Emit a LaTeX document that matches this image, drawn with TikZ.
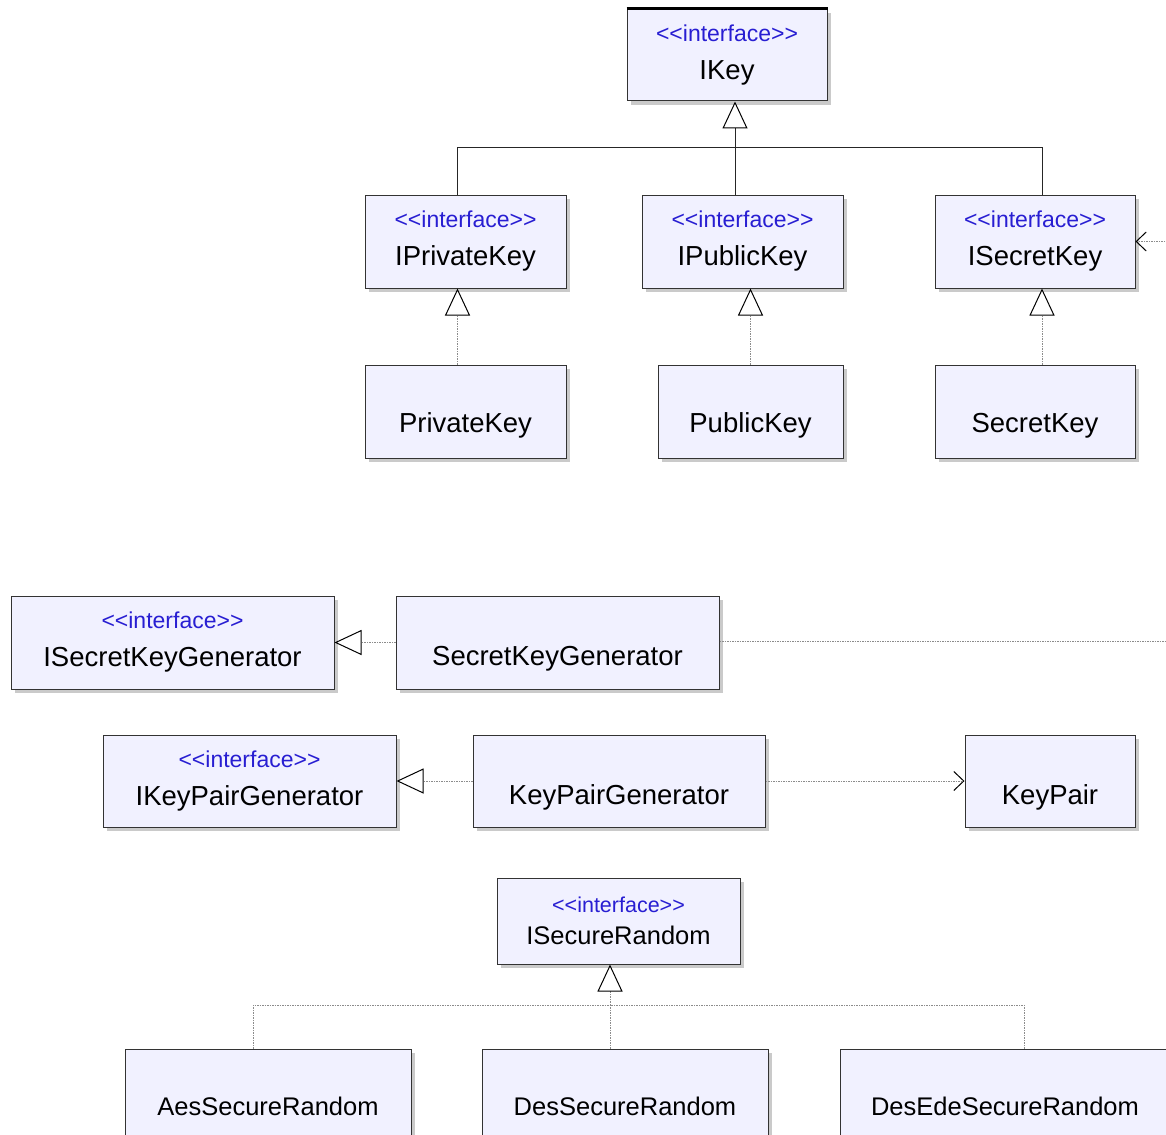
\documentclass[tikz,border=0pt]{standalone}
\usepackage{fontspec}
\newfontfamily\umlfont{Liberation Sans}
\usepackage{tikz}
\usetikzlibrary{positioning}
\usetikzlibrary{arrows.meta,shadows}

\definecolor{StereoBlue}{RGB}{40,30,210}
\definecolor{BoxFill}{RGB}{241,241,255}

% stereotype line, big and small version
\newcommand{\ifaceTag}{{\fontsize{23}{38}\selectfont\color{StereoBlue}<<interface>>}}
\newcommand{\ifaceTagSmall}{{\fontsize{21.5}{32}\selectfont\color{StereoBlue}<<interface>>}}

\tikzset{
	classBox/.style={draw=black!80, line width=1pt, fill=BoxFill, align=center, inner sep=0pt,
		font=\umlfont\fontsize{27.5}{38}\selectfont,
		drop shadow={shadow xshift=4pt, shadow yshift=-4pt, fill=black!35, opacity=0.6}},
	smallBox/.style={classBox, font=\umlfont\fontsize{25.5}{32}\selectfont},
	extLine/.style={draw=black!85, line width=1pt,
		-{Triangle[length=27pt, width=25pt, color=black, fill=white, line width=1pt]}},
	implLine/.style={draw=black!45, line width=1pt, dash pattern=on 1.5pt off 1pt,
		-{Triangle[length=27pt, width=25pt, color=black, fill=white, line width=1pt]}},
	joinLine/.style={draw=black!45, line width=1pt, dash pattern=on 1.5pt off 1pt},
	useLine/.style={draw=black!45, line width=1pt, dash pattern=on 1.5pt off 1pt,
		-{Straight Barb[length=10pt, width=19pt, color=black, line width=1pt]}},
}

\begin{document}
\begin{tikzpicture}[x=1pt, y=-1pt]
	
	% page frame (pixels of the reference), everything outside is cut off
	\path[use as bounding box, clip] (0,0) rectangle (1166,1134);
	
	%%%%%%%%%%%%%%%%%%%%%%%%%%%%%%%%%%%%%%%%%%%%%%%%%%%%%%%%%%%%%%
	% key interfaces and classes
	\node[classBox, minimum width=200pt, minimum height=92pt] (IKey) at (727,55) {\ifaceTag\\IKey};
	\draw[line width=3pt] (IKey.north west) -- (IKey.north east);
	
	\node[classBox, minimum width=201pt, minimum height=93pt] (IPrivateKey) at (465.5,241.5) {\ifaceTag\\IPrivateKey};
	\node[classBox, minimum width=201pt, minimum height=93pt] (IPublicKey) at (742.5,241.5) {\ifaceTag\\IPublicKey};
	\node[classBox, minimum width=200pt, minimum height=93pt] (ISecretKey) at (1035,241.5) {\ifaceTag\\ISecretKey};
	
	\node[classBox, minimum width=201pt, minimum height=93pt] (PrivateKey) at (465.5,411.5) {\phantom{\ifaceTag}\\[-6pt]PrivateKey};
	\node[classBox, minimum width=185pt, minimum height=93pt] (PublicKey) at (750.5,411.5) {\phantom{\ifaceTag}\\[-6pt]PublicKey};
	\node[classBox, minimum width=200pt, minimum height=93pt] (SecretKey) at (1035,411.5) {\phantom{\ifaceTag}\\[-6pt]SecretKey};
	
	% generators
	\node[classBox, minimum width=323pt, minimum height=93pt] (ISecretKeyGenerator) at (172.5,642.5) {\ifaceTag\\ISecretKeyGenerator};
	\node[classBox, minimum width=323pt, minimum height=93pt] (SecretKeyGenerator) at (557.5,642.5) {\phantom{\ifaceTag}\\[-2pt]SecretKeyGenerator};
	
	\node[classBox, minimum width=293pt, minimum height=92pt] (IKeyPairGenerator) at (249.5,781) {\ifaceTag\\IKeyPairGenerator};
	\node[classBox, minimum width=292pt, minimum height=92pt] (KeyPairGenerator) at (619,781) {\phantom{\ifaceTag}\\[-2pt]KeyPairGenerator};
	\node[classBox, minimum width=170pt, minimum height=92pt] (KeyPair) at (1050,781) {\phantom{\ifaceTag}\\[-2pt]KeyPair};
	
	% secure random
	\node[smallBox, minimum width=243pt, minimum height=86pt] (ISecureRandom) at (618.5,921) {\ifaceTagSmall\\ISecureRandom};
	\node[smallBox, minimum width=286pt, minimum height=93pt] (AesSecureRandom) at (268,1095.5) {\phantom{\ifaceTagSmall}\\[-8pt]AesSecureRandom};
	\node[smallBox, minimum width=286pt, minimum height=93pt] (DesSecureRandom) at (625,1095.5) {\phantom{\ifaceTagSmall}\\[-8pt]DesSecureRandom};
	\node[smallBox, minimum width=330pt, minimum height=93pt] (DesEdeSecureRandom) at (1005,1095.5) {\phantom{\ifaceTagSmall}\\[-8pt]DesEdeSecureRandom};
	
	%%%%%%%%%%%%%%%%%%%%%%%%%%%%%%%%%%%%%%%%%%%%%%%%%%%%%%%%%%%%%%
	% IKey tree (solid)
	\coordinate (KeyJoin) at (735,148);
	\draw[extLine] (KeyJoin) -- (KeyJoin |- IKey.south);
	\draw[draw=black!85, line width=1pt] ([xshift=-8pt]IPrivateKey.north) |- (KeyJoin);
	\draw[draw=black!85, line width=1pt] (KeyJoin |- IPublicKey.north) -- (KeyJoin);
	\draw[draw=black!85, line width=1pt] ([xshift=7pt]ISecretKey.north) |- (KeyJoin);
	
	% key classes
	\draw[implLine] ([xshift=-8pt]PrivateKey.north) -- ([xshift=-8pt]IPrivateKey.south);
	\draw[implLine] (PublicKey.north) -- (PublicKey.north |- IPublicKey.south);
	\draw[implLine] ([xshift=7pt]SecretKey.north) -- ([xshift=7pt]ISecretKey.south);
	
	% generators
	\draw[implLine] (SecretKeyGenerator.west) -- (ISecretKeyGenerator.east);
	\draw[implLine] (KeyPairGenerator.west) -- (IKeyPairGenerator.east);
	\draw[useLine] (KeyPairGenerator.east) -- (KeyPair.west);
	
	% runs off the right edge and comes back into ISecretKey
	\coordinate (SkgOut) at (1200,641);
	\draw[useLine] (SecretKeyGenerator.east |- SkgOut) -- (SkgOut) |- (ISecretKey.east);
	
	% secure random tree
	\coordinate (RndJoin) at (610,1005);
	\draw[implLine] (RndJoin) -- (RndJoin |- ISecureRandom.south);
	\draw[joinLine] ([xshift=-15pt]AesSecureRandom.north) |- (RndJoin);
	\draw[joinLine] (RndJoin |- DesSecureRandom.north) -- (RndJoin);
	\draw[joinLine] ([xshift=19pt]DesEdeSecureRandom.north) |- (RndJoin);
	
\end{tikzpicture}
\end{document}
